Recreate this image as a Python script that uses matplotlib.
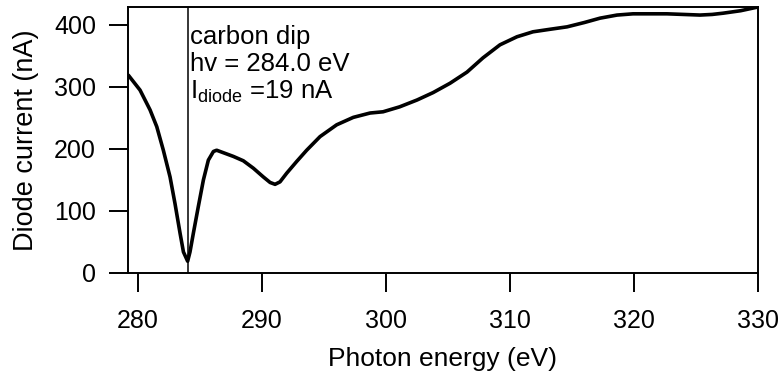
import matplotlib
matplotlib.use("Agg")
import matplotlib.pyplot as plt

plt.rcParams['font.family'] = ['Liberation Sans', 'DejaVu Sans']
plt.rcParams['mathtext.fontset'] = 'custom'
plt.rcParams['mathtext.rm'] = 'Liberation Sans'
plt.rcParams['mathtext.it'] = 'Liberation Sans:italic'

# Photon energy scan across the carbon K-edge (eV) and measured diode current (nA)
energy = [279.22, 280.16, 280.97, 281.51, 282.04, 282.58, 282.98, 283.39, 283.66,
          284.0, 284.19, 284.46, 284.86, 285.27, 285.67, 286.08, 286.34, 286.88,
          287.69, 288.49, 289.30, 290.10, 290.65, 291.05, 291.45, 291.99, 292.80,
          293.60, 294.68, 296.02, 297.36, 298.71, 299.76, 301.1, 302.5, 303.8,
          305.16, 306.53, 307.82, 309.19, 310.56, 311.85, 313.2, 314.6, 316.0,
          317.26, 318.63, 319.92, 321.3, 322.66, 324.0, 325.32, 326.3, 327.18,
          328.6, 330.0]
current = [319, 295, 263, 236, 198, 155, 112, 64, 34,
           19, 34, 64, 107, 150, 182, 196, 198, 194,
           188, 181, 169, 155, 146, 143, 147, 161, 180,
           198, 220, 239, 251, 258, 260, 268, 279, 291,
           306, 324, 347, 368, 381, 389, 393, 397, 404,
           411, 416, 418, 418, 418, 417, 416, 417, 419,
           423, 429]

dip_energy = 284.0
dip_current = 19

x_ticks = [280, 290, 300, 310, 320, 330]
y_ticks = [0, 100, 200, 300, 400]

fig = plt.figure(figsize=(7.82, 3.78), dpi=100)
ax = fig.add_axes([128 / 782, 105 / 378, 630 / 782, 266 / 378])

ax.plot(energy, current, color='black', lw=2.6, solid_joinstyle='round',
        solid_capstyle='round')
ax.axvline(dip_energy, color='black', lw=1.1)

ax.set_xlim(279.19, 330)
ax.set_ylim(0, 429)
ax.set_xticks(x_ticks)
ax.set_yticks(y_ticks)

for side in ax.spines.values():
    side.set_linewidth(1.4)
ax.tick_params(direction='out', length=14, width=1.4, labelsize=18, pad=9)
ax.tick_params(axis='x', pad=12)

ax.set_xlabel('Photon energy (eV)', fontsize=19, labelpad=10)
ax.set_ylabel('Diode current (nA)', fontsize=19.5, labelpad=11)

ax.text(dip_energy + 0.2, 369, 'carbon dip', fontsize=18.5, va='baseline')
ax.text(dip_energy + 0.2, 326, f'hv = {dip_energy:.1f} eV', fontsize=18.5, va='baseline')
ax.text(dip_energy + 0.2, 281, r'I$_{\rm diode}$' + f' ={dip_current} nA',
        fontsize=18.5, va='baseline')

fig.savefig('out.png', dpi=100)
